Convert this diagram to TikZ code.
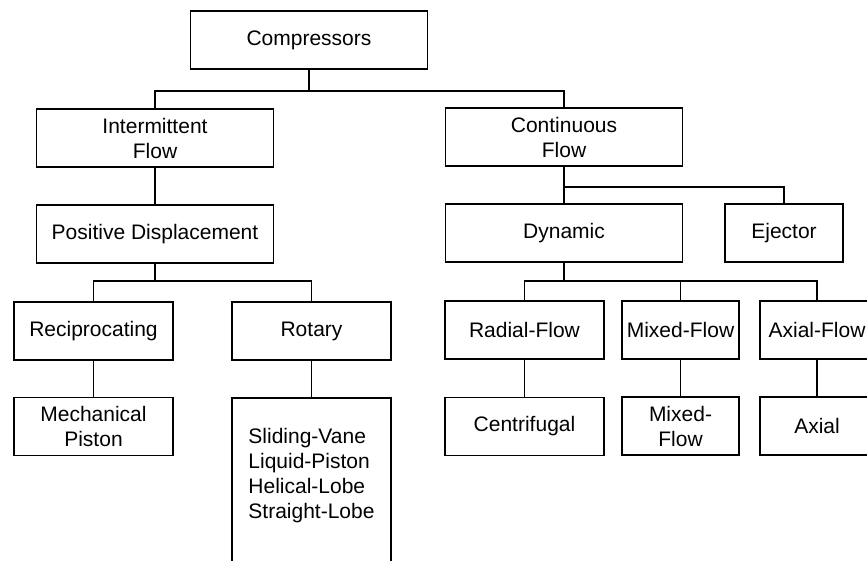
\documentclass[tikz,border=0pt]{standalone}
\usepackage{fontspec}
\setmainfont{Liberation Sans}
\begin{document}
\begin{tikzpicture}[x=1pt,y=-1pt,
  box/.style={draw, line width=1.6pt, inner sep=0pt, align=center,
    minimum height=58pt, font=\fontsize{21}{25}\selectfont},
  wide/.style={box, minimum width=237pt},
  mid/.style={box, minimum width=159pt},
  narrow/.style={box, minimum width=117pt},
  link/.style={line width=1.6pt}]
\useasboundingbox (0,0) rectangle (867,561);
\clip (0,0) rectangle (867,561);

% top level
\node[wide] (comp) at (309,40) {Compressors};
\node[wide] (inter) at (155,138) {Intermittent\\Flow};
\node[wide] (cont) at (564,137) {Continuous\\Flow};

% intermittent branch
\node[wide] (pd) at (155,234) {Positive Displacement};
\node[mid] (recip) at (93.5,331) {Reciprocating};
\node[mid] (rot) at (311.5,331) {Rotary};
\node[mid] (mech) at (93.5,426.5) {Mechanical\\Piston};
\node[mid, minimum height=200pt] (rotbox) at (311.5,498) {};
\node[font=\fontsize{21}{25}\selectfont, align=left, inner sep=0pt] (rotlist) at (311.5,476)
  {Sliding-Vane\\Liquid-Piston\\Helical-Lobe\\Straight-Lobe};

% continuous branch
\node[wide] (dyn) at (564,233) {Dynamic};
\node[narrow, minimum width=118pt] (ej) at (784,233) {Ejector};
\node[mid] (radial) at (524.5,330) {Radial-Flow};
\node[narrow] (mixed) at (680.5,330) {Mixed-Flow};
\node[narrow, minimum width=114pt] (axialf) at (817,330) {Axial-Flow};
\node[mid] (centri) at (524.5,426.5) {Centrifugal};
\node[narrow] (mixed2) at (680.5,426) {Mixed-\\Flow};
\node[narrow, minimum width=114pt] (axial) at (817,426) {Axial};

% junctions
\coordinate (j1) at (comp.south |- 0,91);
\coordinate (j2) at (cont.south |- 0,187);
\coordinate (j3) at (pd.south |- 0,281);
\coordinate (j4) at (dyn.south |- 0,281);

% connectors
\draw[link] (comp.south) -- (j1);
\draw[link] (inter.north) |- (j1) -| (cont.north);
\draw[link] (inter.south) -- (pd.north);
\draw[link] (pd.south) -- (j3);
\draw[link] (recip.north) |- (j3) -| (rot.north);
\draw[link] (recip.south) -- (mech.north);
\draw[link] (rot.south) -- (rotbox.north);
\draw[link] (cont.south) -- (dyn.north);
\draw[link] (j2) -| (ej.north);
\draw[link] (dyn.south) -- (j4);
\draw[link] (radial.north) |- (j4) -| (axialf.north);
\draw[link] (mixed.north) -- (mixed.north |- j4);
\draw[link] (radial.south) -- (centri.north);
\draw[link] (mixed.south) -- (mixed2.north);
\draw[link] (axialf.south) -- (axial.north);
\end{tikzpicture}
\end{document}
